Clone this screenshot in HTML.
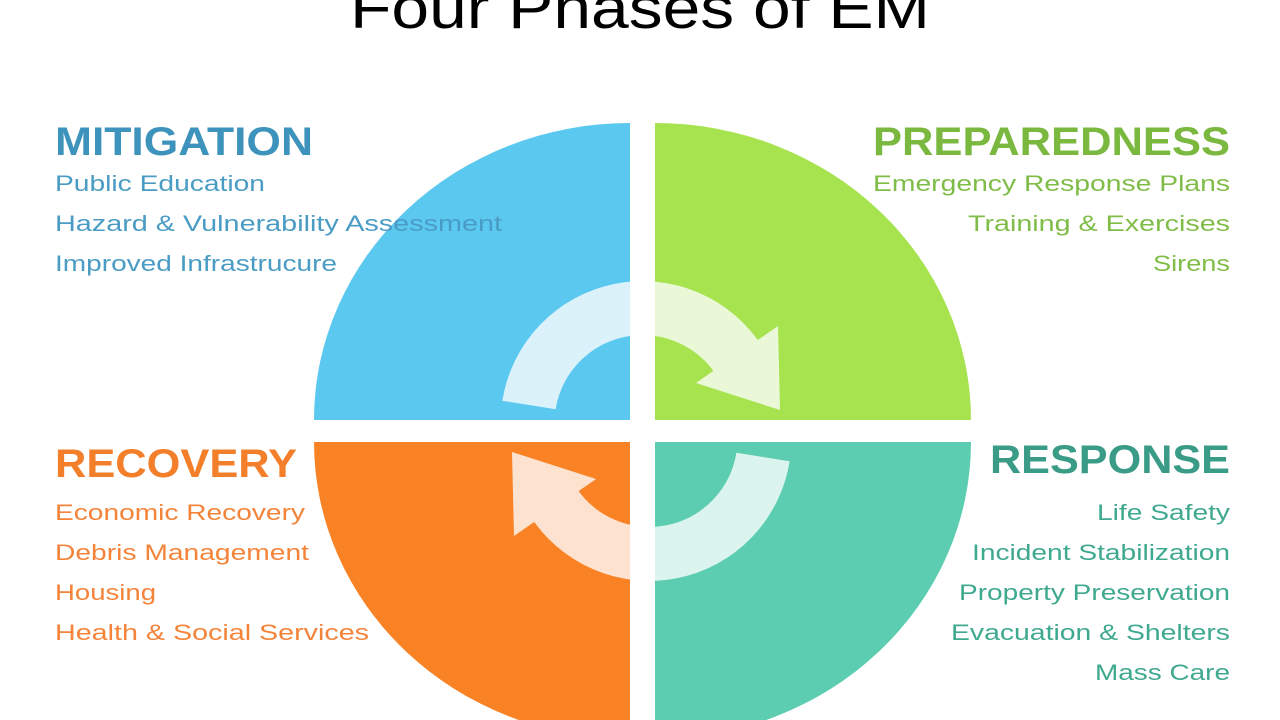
<!DOCTYPE html>
<html><head><meta charset="utf-8"><style>
html,body{margin:0;padding:0;background:#fff;}
svg{display:block;}
text{font-family:"Liberation Sans",sans-serif;}
</style></head><body>
<svg width="1280" height="720" viewBox="0 0 1280 720" xmlns="http://www.w3.org/2000/svg">
<rect width="1280" height="720" fill="#fff"/>
<text x="350" y="28" font-size="58" fill="#000" textLength="580" lengthAdjust="spacingAndGlyphs" font-family="Liberation Sans">Four Phases of EM</text>

<!-- quadrants -->
<path d="M630,420 L314,420 A316,297 0 0 1 630,123 Z" fill="#5bc8f0"/>
<path d="M655,420 L655,123 A316,297 0 0 1 971,420 Z" fill="#a6e34f"/>
<path d="M630,442 L630,739 A316,297 0 0 1 314,442 Z" fill="#f98225"/>
<path d="M655,442 L971,442 A316,297 0 0 1 655,739 Z" fill="#5ccdb0"/>

<!-- arrows -->
<g fill="#fff" opacity="0.78">
  <path d="M529,405 A115,115 0 0 1 740,362" fill="none" stroke="#fff" stroke-width="54"/>
  <polygon points="778,326 696,383 780,410"/>
  <g transform="rotate(180,646,431)">
    <path d="M529,405 A115,115 0 0 1 740,362" fill="none" stroke="#fff" stroke-width="54"/>
    <polygon points="778,326 696,383 780,410"/>
  </g>
</g>

<!-- Mitigation -->
<text x="55" y="155" font-size="40" font-weight="bold" fill="#3d93bb" textLength="258" lengthAdjust="spacingAndGlyphs">MITIGATION</text>
<g font-size="22" fill="#4a9cc4">
<text x="55" y="191" textLength="210" lengthAdjust="spacingAndGlyphs">Public Education</text>
<text x="55" y="231" textLength="447" lengthAdjust="spacingAndGlyphs">Hazard &amp; Vulnerability Assessment</text>
<text x="55" y="271" textLength="282" lengthAdjust="spacingAndGlyphs">Improved Infrastrucure</text>
</g>

<!-- Preparedness -->
<text x="873" y="155" font-size="40" font-weight="bold" fill="#7ab840" textLength="357" lengthAdjust="spacingAndGlyphs">PREPAREDNESS</text>
<g font-size="22" fill="#80bd48">
<text x="873" y="191" textLength="357" lengthAdjust="spacingAndGlyphs">Emergency Response Plans</text>
<text x="968" y="231" textLength="262" lengthAdjust="spacingAndGlyphs">Training &amp; Exercises</text>
<text x="1153" y="271" textLength="77" lengthAdjust="spacingAndGlyphs">Sirens</text>
</g>

<!-- Recovery -->
<text x="55" y="477" font-size="40" font-weight="bold" fill="#f47f2a" textLength="242" lengthAdjust="spacingAndGlyphs">RECOVERY</text>
<g font-size="22" fill="#f4843a">
<text x="55" y="520" textLength="250" lengthAdjust="spacingAndGlyphs">Economic Recovery</text>
<text x="55" y="560" textLength="254" lengthAdjust="spacingAndGlyphs">Debris Management</text>
<text x="55" y="600" textLength="101" lengthAdjust="spacingAndGlyphs">Housing</text>
<text x="55" y="640" textLength="314" lengthAdjust="spacingAndGlyphs">Health &amp; Social Services</text>
</g>

<!-- Response -->
<text x="990" y="473" font-size="40" font-weight="bold" fill="#3a9c86" textLength="240" lengthAdjust="spacingAndGlyphs">RESPONSE</text>
<g font-size="22" fill="#3fa98f">
<text x="1097" y="520" textLength="133" lengthAdjust="spacingAndGlyphs">Life Safety</text>
<text x="972" y="560" textLength="258" lengthAdjust="spacingAndGlyphs">Incident Stabilization</text>
<text x="959" y="600" textLength="271" lengthAdjust="spacingAndGlyphs">Property Preservation</text>
<text x="951" y="640" textLength="279" lengthAdjust="spacingAndGlyphs">Evacuation &amp; Shelters</text>
<text x="1095" y="680" textLength="135" lengthAdjust="spacingAndGlyphs">Mass Care</text>
</g>
</svg>
</body></html>
